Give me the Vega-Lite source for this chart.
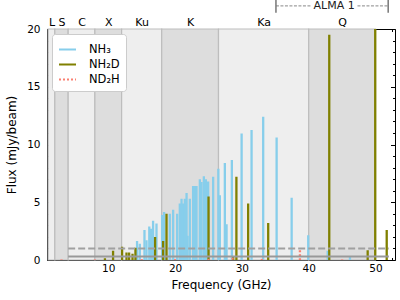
{
  "$schema": "https://vega.github.io/schema/vega-lite/v6.json",
  "width": 348,
  "height": 231,
  "autosize": {"type": "none"},
  "padding": {"left": 47, "top": 29, "right": 5, "bottom": 40},
  "background": "white",
  "config": {
    "font": "DejaVu Sans",
    "view": {"stroke": null},
    "axis": {
      "grid": false, "zindex": 1, "labelFont": "DejaVu Sans", "titleFont": "DejaVu Sans",
      "labelColor": "black", "titleColor": "black", "tickColor": "black", "domainColor": "black",
      "labelFontSize": 10.5, "titleFontSize": 12, "titleFontWeight": "normal", "tickWidth": 1, "domainWidth": 1
    },
    "legend": {
      "orient": "top-left", "offset": 5, "fillColor": "white", "strokeColor": "#cccccc",
      "padding": 6, "cornerRadius": 3, "labelFont": "DejaVu Sans", "labelFontSize": 11.5, "labelColor": "black",
      "symbolType": "stroke", "symbolStrokeWidth": 2, "symbolSize": 289, "rowPadding": 0, "labelOffset": 12
    }
  },
  "datasets": {
    "bands": [
      {"band": "L", "f0": 1, "f1": 2},
      {"band": "S", "f0": 2, "f1": 4},
      {"band": "C", "f0": 4, "f1": 8},
      {"band": "X", "f0": 8, "f1": 12},
      {"band": "Ku", "f0": 12, "f1": 18},
      {"band": "K", "f0": 18, "f1": 26.5},
      {"band": "Ka", "f0": 26.5, "f1": 40},
      {"band": "Q", "f0": 40, "f1": 50}
    ],
    "lines": [
      {"species": "NH₃", "freq": 14.31, "flux": 1.65},
      {"species": "NH₃", "freq": 14.72, "flux": 1.4},
      {"species": "NH₃", "freq": 15.42, "flux": 2.6},
      {"species": "NH₃", "freq": 15.72, "flux": 1.7},
      {"species": "NH₃", "freq": 16.14, "flux": 2.9},
      {"species": "NH₃", "freq": 16.41, "flux": 2.7},
      {"species": "NH₃", "freq": 16.71, "flux": 3.4},
      {"species": "NH₃", "freq": 17.22, "flux": 3.15},
      {"species": "NH₃", "freq": 18.06, "flux": 3.9},
      {"species": "NH₃", "freq": 18.36, "flux": 4.15},
      {"species": "NH₃", "freq": 19.21, "flux": 4.0},
      {"species": "NH₃", "freq": 19.71, "flux": 4.35},
      {"species": "NH₃", "freq": 20.31, "flux": 4.0},
      {"species": "NH₃", "freq": 20.71, "flux": 4.9},
      {"species": "NH₃", "freq": 20.97, "flux": 5.3},
      {"species": "NH₃", "freq": 21.21, "flux": 4.9},
      {"species": "NH₃", "freq": 21.46, "flux": 5.3},
      {"species": "NH₃", "freq": 21.72, "flux": 5.8},
      {"species": "NH₃", "freq": 21.87, "flux": 2.1},
      {"species": "NH₃", "freq": 22.21, "flux": 5.3},
      {"species": "NH₃", "freq": 22.7, "flux": 6.4},
      {"species": "NH₃", "freq": 22.96, "flux": 6.4},
      {"species": "NH₃", "freq": 23.21, "flux": 6.4},
      {"species": "NH₃", "freq": 23.71, "flux": 7.0},
      {"species": "NH₃", "freq": 23.96, "flux": 6.75},
      {"species": "NH₃", "freq": 24.31, "flux": 7.25},
      {"species": "NH₃", "freq": 24.61, "flux": 7.0},
      {"species": "NH₃", "freq": 24.95, "flux": 6.8},
      {"species": "NH₃", "freq": 25.7, "flux": 7.2},
      {"species": "NH₃", "freq": 26.48, "flux": 7.9},
      {"species": "NH₃", "freq": 26.7, "flux": 5.6},
      {"species": "NH₃", "freq": 27.45, "flux": 8.4},
      {"species": "NH₃", "freq": 27.71, "flux": 3.1},
      {"species": "NH₃", "freq": 28.5, "flux": 8.65},
      {"species": "NH₃", "freq": 29.96, "flux": 10.95},
      {"species": "NH₃", "freq": 31.45, "flux": 11.25},
      {"species": "NH₃", "freq": 33.19, "flux": 12.4},
      {"species": "NH₃", "freq": 35.2, "flux": 10.6},
      {"species": "NH₃", "freq": 37.45, "flux": 5.4},
      {"species": "NH₃", "freq": 39.93, "flux": 2.15},
      {"species": "NH₃", "freq": 42.84, "flux": 0.8},
      {"species": "NH₃", "freq": 46.18, "flux": 0.3},
      {"species": "NH₂D", "freq": 9.5, "flux": 0.15},
      {"species": "NH₂D", "freq": 10.72, "flux": 0.8},
      {"species": "NH₂D", "freq": 12.07, "flux": 1.15},
      {"species": "NH₂D", "freq": 12.73, "flux": 0.65},
      {"species": "NH₂D", "freq": 13.12, "flux": 0.65},
      {"species": "NH₂D", "freq": 13.63, "flux": 0.55},
      {"species": "NH₂D", "freq": 14.07, "flux": 1.05},
      {"species": "NH₂D", "freq": 17.01, "flux": 2.0},
      {"species": "NH₂D", "freq": 18.21, "flux": 1.65},
      {"species": "NH₂D", "freq": 18.72, "flux": 4.0},
      {"species": "NH₂D", "freq": 25.01, "flux": 5.5},
      {"species": "NH₂D", "freq": 28.7, "flux": 0.25},
      {"species": "NH₂D", "freq": 29.18, "flux": 7.2},
      {"species": "NH₂D", "freq": 30.94, "flux": 4.9},
      {"species": "NH₂D", "freq": 33.94, "flux": 3.2},
      {"species": "NH₂D", "freq": 43.08, "flux": 19.5},
      {"species": "NH₂D", "freq": 48.83, "flux": 0.85},
      {"species": "NH₂D", "freq": 49.96, "flux": 25},
      {"species": "NH₂D", "freq": 51.68, "flux": 2.6},
      {"species": "ND₂H", "freq": 3.0, "flux": 0.05},
      {"species": "ND₂H", "freq": 8.0, "flux": 0.05},
      {"species": "ND₂H", "freq": 15.0, "flux": 0.08},
      {"species": "ND₂H", "freq": 20.0, "flux": 0.08},
      {"species": "ND₂H", "freq": 25.0, "flux": 0.1},
      {"species": "ND₂H", "freq": 28.6, "flux": 0.2},
      {"species": "ND₂H", "freq": 33.0, "flux": 0.1},
      {"species": "ND₂H", "freq": 38.69, "flux": 0.85},
      {"species": "ND₂H", "freq": 45.0, "flux": 0.05}
    ],
    "sens": [
      {"kind": "dashed", "f0": 4, "f1": 52, "flux": 1.0},
      {"kind": "solid", "f0": 4, "f1": 52, "flux": 0.3}
    ],
    "alma": [
      {"f0": 35.1, "f1": 40.3, "y": 22.0},
      {"f0": 47.3, "f1": 51.9, "y": 22.0}
    ],
    "almaEnds": [
      {"f": 35.1, "y0": 21.4, "y1": 22.7},
      {"f": 51.9, "y0": 21.4, "y1": 22.7}
    ],
    "almaLabel": [
      {"f": 43.8, "y": 22.0, "label": "ALMA 1"}
    ]
  },
  "resolve": {"axis": {"x": "independent", "y": "independent"}},
  "layer": [
    {
      "data": {"name": "bands"},
      "mark": {"type": "rect", "stroke": "#bdbdbd", "strokeWidth": 1.2},
      "encoding": {
        "x": {
          "field": "f0", "type": "quantitative",
          "scale": {"domain": [0.83, 52.92], "nice": false, "zero": false},
          "axis": {
            "orient": "top", "values": [1.5, 3, 6, 10, 15, 22.25, 33.25, 45],
            "labelExpr": "datum.value == 1.5 ? 'L' : datum.value == 3 ? 'S' : datum.value == 6 ? 'C' : datum.value == 10 ? 'X' : datum.value == 15 ? 'Ku' : datum.value == 22.25 ? 'K' : datum.value == 33.25 ? 'Ka' : 'Q'",
            "ticks": false, "domain": true, "labelPadding": 2, "labelFontSize": 11,
            "title": null, "labelFlush": false, "labelOverlap": false, "labelBound": false
          }
        },
        "x2": {"field": "f1"},
        "fill": {
          "field": "band", "type": "nominal",
          "scale": {"domain": ["L", "S", "C", "X", "Ku", "K", "Ka", "Q"], "range": ["#eeeeee", "#dddddd", "#eeeeee", "#dddddd", "#eeeeee", "#dddddd", "#eeeeee", "#dddddd"]},
          "legend": null
        }
      }
    },
    {
      "data": {"name": "lines"},
      "mark": {"type": "rule", "strokeWidth": 2.3, "clip": true},
      "encoding": {
        "x": {
          "field": "freq", "type": "quantitative",
          "scale": {"domain": [0.83, 52.92], "nice": false, "zero": false},
          "axis": {"orient": "bottom", "values": [10, 20, 30, 40, 50], "tickSize": -4, "labelPadding": 7, "title": "Frequency (GHz)", "titlePadding": 6, "domain": true}
        },
        "y": {
          "field": "flux", "type": "quantitative",
          "scale": {"domain": [0, 20], "nice": false},
          "axis": {"orient": "left", "values": [0, 5, 10, 15, 20], "tickSize": -4.5, "labelPadding": 11.5, "title": "Flux (mJy/beam)", "titlePadding": 8, "domain": true}
        },
        "y2": {"datum": 0},
        "color": {
          "field": "species", "type": "nominal",
          "scale": {"domain": ["NH₃", "NH₂D", "ND₂H"], "range": ["#87ceeb", "#808000", "#fa8072"]},
          "legend": {"title": null}
        },
        "strokeDash": {
          "field": "species", "type": "nominal",
          "scale": {"domain": ["NH₃", "NH₂D", "ND₂H"], "range": [[1, 0], [1, 0], [2, 2]]},
          "legend": {"title": null}
        }
      }
    },
    {
      "data": {"name": "sens"},
      "transform": [{"filter": "datum.kind == 'dashed'"}],
      "mark": {"type": "rule", "stroke": "#a0a0a0", "strokeWidth": 2, "strokeDash": [7, 3]},
      "encoding": {
        "x": {
          "field": "f0", "type": "quantitative",
          "scale": {"domain": [0.83, 52.92], "nice": false, "zero": false},
          "axis": {"orient": "bottom", "values": [2.5, 5, 7.5, 12.5, 15, 17.5, 22.5, 25, 27.5, 32.5, 35, 37.5, 42.5, 45, 47.5, 52.5], "tickSize": -2.5, "labels": false, "domain": false, "title": null}
        },
        "x2": {"field": "f1"},
        "y": {
          "field": "flux", "type": "quantitative",
          "scale": {"domain": [0, 20], "nice": false},
          "axis": {"orient": "left", "values": [1, 2, 3, 4, 6, 7, 8, 9, 11, 12, 13, 14, 16, 17, 18, 19], "tickSize": -2.5, "labels": false, "domain": false, "title": null}
        }
      }
    },
    {
      "data": {"name": "sens"},
      "transform": [{"filter": "datum.kind == 'solid'"}],
      "mark": {"type": "rule", "stroke": "#999999", "strokeWidth": 2},
      "encoding": {
        "x": {
          "field": "f0", "type": "quantitative",
          "scale": {"domain": [0.83, 52.92], "nice": false, "zero": false},
          "axis": {"orient": "top", "values": [2.5, 5, 7.5, 12.5, 15, 17.5, 22.5, 25, 27.5, 32.5, 35, 37.5, 42.5, 45, 47.5, 52.5], "tickSize": -2.5, "labels": false, "domain": false, "title": null}
        },
        "x2": {"field": "f1"},
        "y": {
          "field": "flux", "type": "quantitative",
          "scale": {"domain": [0, 20], "nice": false},
          "axis": {"orient": "right", "values": [1, 2, 3, 4, 6, 7, 8, 9, 11, 12, 13, 14, 16, 17, 18, 19], "tickSize": -2.5, "labels": false, "domain": true, "title": null}
        }
      }
    },
    {
      "data": {"name": "alma"},
      "mark": {"type": "rule", "stroke": "#888888", "strokeWidth": 1, "strokeDash": [3, 1.5]},
      "encoding": {
        "x": {
          "field": "f0", "type": "quantitative",
          "scale": {"domain": [0.83, 52.92], "nice": false, "zero": false},
          "axis": {"orient": "top", "values": [10, 20, 30, 40, 50], "tickSize": -4, "labels": false, "domain": false, "title": null}
        },
        "x2": {"field": "f1"},
        "y": {
          "field": "y", "type": "quantitative",
          "scale": {"domain": [0, 20], "nice": false},
          "axis": {"orient": "right", "values": [0, 5, 10, 15, 20], "tickSize": -4.5, "labels": false, "domain": false, "title": null}
        }
      }
    },
    {
      "data": {"name": "almaEnds"},
      "mark": {"type": "rule", "stroke": "#777777", "strokeWidth": 1.5},
      "encoding": {
        "x": {"field": "f", "type": "quantitative", "scale": {"domain": [0.83, 52.92], "nice": false, "zero": false}, "axis": null},
        "y": {"field": "y0", "type": "quantitative", "scale": {"domain": [0, 20], "nice": false}, "axis": null},
        "y2": {"field": "y1"}
      }
    },
    {
      "data": {"name": "almaLabel"},
      "mark": {"type": "text", "fontSize": 11, "font": "DejaVu Sans", "color": "#222222", "baseline": "middle", "align": "center"},
      "encoding": {
        "x": {"field": "f", "type": "quantitative", "scale": {"domain": [0.83, 52.92], "nice": false, "zero": false}, "axis": null},
        "y": {"field": "y", "type": "quantitative", "scale": {"domain": [0, 20], "nice": false}, "axis": null},
        "text": {"field": "label"}
      }
    }
  ]
}
